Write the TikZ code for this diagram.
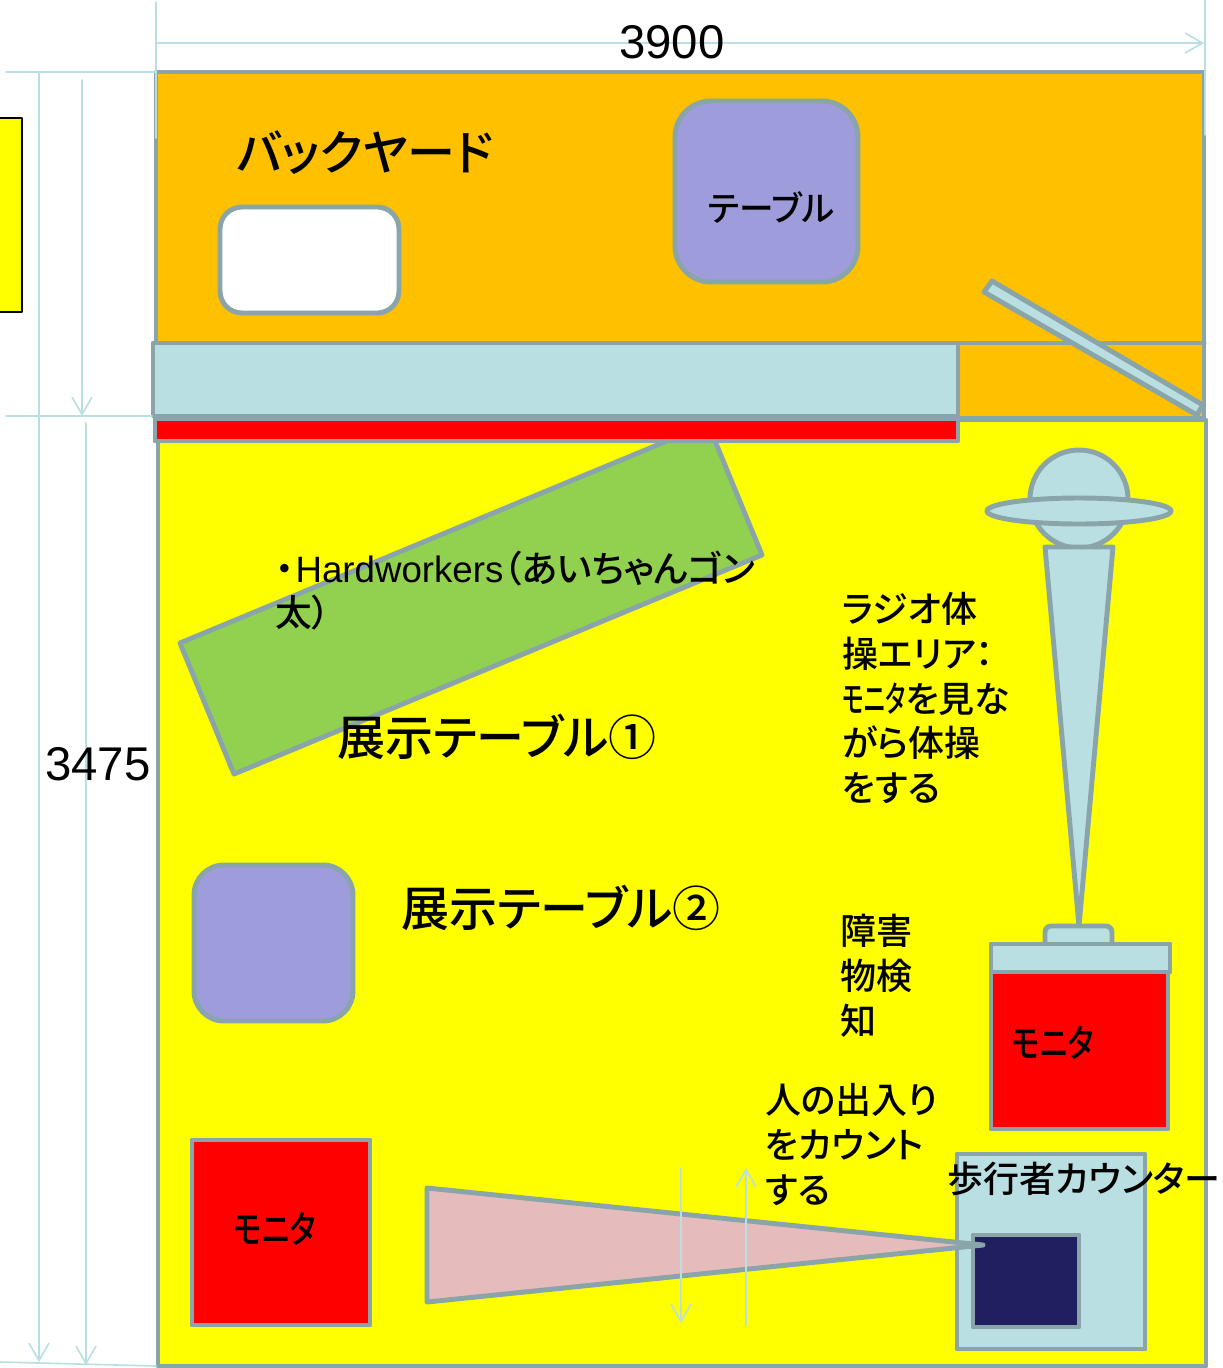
\documentclass[tikz,border=0pt]{standalone}
\usepackage{fontspec}
\setmainfont{Liberation Sans}
\newfontfamily\cjk[RawFeature=+palt]{Noto Sans CJK JP Medium}
\usetikzlibrary{arrows.meta}
\definecolor{wallgray}{HTML}{8AA5A9}
\definecolor{paleblue}{HTML}{B9DFE2}
\definecolor{backorange}{HTML}{FFC000}
\definecolor{floorred}{HTML}{FF0000}
\definecolor{flooryellow}{HTML}{FFFF00}
\definecolor{tablegreen}{HTML}{92D14F}
\definecolor{tablepurple}{HTML}{9E9CDB}
\definecolor{sensornavy}{HTML}{21205F}
\definecolor{beampink}{HTML}{E6BBBB}
\newcommand{\narrowmon}[2]{\scalebox{#1}[#2]{モニタ}}
\begin{document}
\begin{tikzpicture}[x=.75pt, y=-.75pt, line join=round, line cap=round, >={Straight Barb[length=13pt,width=15pt,line width=1.2pt]},
 wall/.style={draw=wallgray, line width=3.7pt},
 dim/.style={draw=paleblue, line width=1.2pt},
 num/.style={font=\fontsize{35.5}{40}\selectfont},
 big/.style={font=\cjk\fontsize{36}{40}\selectfont},
 tag/.style={font=\cjk\fontsize{26}{30}\selectfont},
 note/.style={font=\cjk\fontsize{27}{33.6}\selectfont, align=left, anchor=north west, inner sep=0pt}]
 \useasboundingbox (0,0) rectangle (1223,1368);
 % rooms
 \fill[white] (0,0) rectangle (1223,1368);
 \draw[wall, fill=flooryellow] (158,420) rectangle (1206,1366);
 \draw[wall, fill=backorange] (156,72) rectangle (1204,418);
 \draw[black, line width=1.2pt, fill=flooryellow] (-5,118) rectangle (22,312);
 \draw[wall] (958,343)--(1204,343);
 % tables
 \draw[wall, fill=tablegreen] (180,643)--(234,774)--(762,555)--(708,424)--cycle;
 \draw[wall, fill=paleblue] (153,343) rectangle (958,416);
 \draw[wall, fill=floorred] (155,419) rectangle (958,441);
 \draw[wall, fill=white, rounded corners=22pt*.75] (220,207) rectangle (399,313);
 \draw[wall, fill=tablepurple, rounded corners=36pt*.75] (675,101) rectangle (858,282);
 \draw[wall, fill=tablepurple, rounded corners=30pt*.75] (194,865) rectangle (353,1021);
 \draw[wall, fill=paleblue] (992,281)--(1203,405)--(1197,415)--(984,292)--cycle;
 % exercise area
 \draw[wall, fill=paleblue] (1079,499) circle (49*.75pt);
 \draw[wall, fill=paleblue] (1079,511) ellipse (92*.75pt and 13*.75pt);
 \draw[wall, fill=paleblue] (1045,547)--(1113,547)--(1079,926)--cycle;
 \draw[wall, fill=paleblue, rounded corners=6pt*.75] (1045,946)--(1045,926)--(1112,926)--(1112,946);
 \draw[wall, fill=paleblue] (991,944) rectangle (1170,972);
 \draw[wall, fill=floorred] (991,972) rectangle (1168,1129);
 \draw[wall, fill=floorred] (192,1140) rectangle (370,1325);
 % counter
 \draw[wall, fill=paleblue] (957,1154) rectangle (1145,1349);
 \draw[wall, fill=sensornavy] (973,1235) rectangle (1079,1327);
 \draw[wall, fill=beampink] (427,1188)--(427,1302)--(983,1245)--cycle;
 % dimensions
 \coordinate (wtop) at (156,2);
 \coordinate (wend) at (156,138);
 \coordinate (etop) at (1205,0);
 \coordinate (eend) at (1205,135);
 \draw[dim] (wtop)--(wend);
 \draw[dim] (etop)--(eend);
 \draw[dim,->] (156,43)--(1204,43);
 \draw[dim] (6,72)--(156,72);
 \draw[dim] (6,416)--(152,416);
 \draw[dim] (0,1362)--(156,1366);
 \draw[dim,->] (39,72)--(39,1362);
 \draw[dim,->] (82,80)--(82,416);
 \draw[dim,->] (86,423)--(86,1365);
 \draw[dim,->] (681,1168)--(681,1323);
 \draw[dim,->] (746,1325)--(746,1168);
 % labels
 \node[num] (width) at (672,42) {3900};
 \node[num] (height) at (98,764) {3475};
 \node[big] (back) at (365,153) {バックヤード};
 \node[tag] (tbl) at (771,208) {テーブル};
 \node[font=\cjk\fontsize{27.5}{33}\selectfont, align=left, anchor=north west, inner sep=0pt] (hard) at (275,551) {・\kern1.5pt{\rmfamily Hardworkers}（あいちゃんゴン\\太）};
 \node[big] (tone) at (497,737) {展示テーブル①};
 \node[big] (ttwo) at (561,908) {展示テーブル②};
 \node[note] (radio) at (842,592) {ラジオ体\\操エリア：\\\narrowmon{.64}{1}を見な\\がら体操\\をする};
 \node[note] (obst) at (840,914) {障害\\物検\\知};
 \node[note] (count) at (765,1083) {人の出入り\\をカウント\\する};
 \node[note] (walker) at (947,1162) {歩行者カウンター};
 \node[tag] (monone) at (1053,1043) {\narrowmon{.86}{1.1}};
 \node[tag] (montwo) at (275,1229) {\narrowmon{.86}{1.1}};
\end{tikzpicture}
\end{document}
